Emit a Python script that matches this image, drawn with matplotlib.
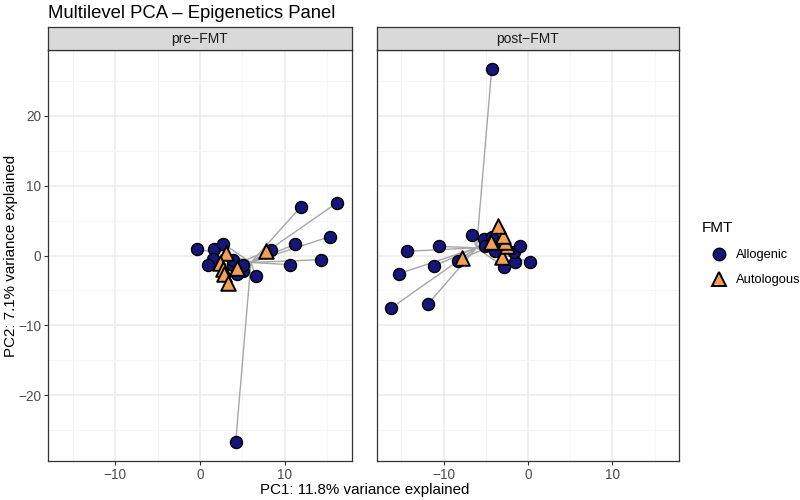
import numpy as np
import matplotlib
matplotlib.use('Agg')
import matplotlib.pyplot as plt
from matplotlib.lines import Line2D

plt.rcParams['font.family'] = ['Liberation Sans', 'DejaVu Sans']

# ---- data
panels = ['pre\u2212FMT', 'post\u2212FMT']

pre_allo_x = [-0.3, 1.6, 2.7, 1.5, 0.9, 3.9, 5.1, 4.3, 6.6, 8.4, 11.9, 16.1, 11.2, 15.3, 10.6, 14.2, 4.2, 3.9, 5.1]
pre_allo_y = [1.0, 1.0, 1.7, -0.5, -1.3, -1.4, -2.2, -2.7, -3.0, 0.8, 7.0, 7.5, 1.6, 2.7, -1.3, -0.6, -26.7, -0.6, -1.3]
pre_auto_x = [3.1, 2.3, 2.7, 2.8, 3.3, 4.4, 7.8]
pre_auto_y = [0.3, -1.1, -1.9, -2.7, -4.0, -1.8, 0.6]

post_allo_x = [0.2, -1.6, -2.8, -1.7, -0.9, -3.9, -5.2, -4.3, -6.6, -8.3, -11.9, -16.2, -11.2, -15.3, -10.6, -14.3, -4.3, -3.9, -5.1]
post_allo_y = [-0.9, -1.0, -1.7, 0.5, 1.3, 1.4, 2.3, 2.7, 3.0, -0.8, -7.0, -7.5, -1.5, -2.6, 1.3, 0.6, 26.7, 0.6, 1.3]
post_auto_x = [-3.1, -2.5, -2.7, -3.0, -3.5, -4.4, -7.8]
post_auto_y = [-0.2, 1.3, 1.9, 2.8, 4.2, 2.0, -0.4]

# group centroids (where the star lines meet)
ctr_allo = [(6.0, -1.0), (-6.1, 1.1)]
ctr_auto = [(3.8, -1.5), (-3.8, 1.6)]

allo = [(pre_allo_x, pre_allo_y), (post_allo_x, post_allo_y)]
auto = [(pre_auto_x, pre_auto_y), (post_auto_x, post_auto_y)]

col_allo = '#16167a'
col_auto = '#f2a055'
line_col = '#a6a6a6'
grid_major = '#ebebeb'
grid_minor = '#f5f5f5'
frame_col = '#333333'

fig = plt.figure(figsize=(8, 5), dpi=100)
W, H = 800., 500.

def px_axes(l, t, r, b):
    return fig.add_axes([l/W, 1-b/H, (r-l)/W, (b-t)/H])

panel_px = [(48, 50, 352, 461), (377, 50, 679, 461)]

for i in range(2):
    l, t, r, b = panel_px[i]
    ax = px_axes(l, t, r, b)
    ax.set_xlim(-17.9, 17.9)
    ax.set_ylim(-29.37, 29.37)
    ax.set_xticks([-10, 0, 10])
    ax.set_yticks([-20, -10, 0, 10, 20])
    ax.set_xticks([-15, -5, 5, 15], minor=True)
    ax.set_yticks([-25, -15, -5, 5, 15, 25], minor=True)
    ax.grid(which='major', color=grid_major, lw=1.1, zorder=0)
    ax.grid(which='minor', color=grid_minor, lw=0.6, zorder=0)
    ax.set_axisbelow(True)
    for s in ax.spines.values():
        s.set_color(frame_col)
        s.set_linewidth(0.9)
    ax.tick_params(which='major', length=3, width=0.8, color=frame_col,
                   labelsize=9.8, labelcolor='#4d4d4d', pad=2)
    ax.tick_params(which='minor', length=0)
    ax.set_xticklabels(['\u221210', '0', '10'])
    if i == 0:
        ax.set_yticklabels(['\u221220', '\u221210', '0', '10', '20'])
    else:
        ax.tick_params(axis='y', which='major', length=0, labelleft=False)

    # star lines to centroids
    cx, cy = ctr_allo[i]
    for x, y in zip(*allo[i]):
        ax.plot([cx, x], [cy, y], color=line_col, lw=1.0, zorder=1)
    cx, cy = ctr_auto[i]
    for x, y in zip(*auto[i]):
        ax.plot([cx, x], [cy, y], color=line_col, lw=1.0, zorder=1)

    ax.scatter(allo[i][0], allo[i][1], s=75, marker='o', facecolor=col_allo,
               edgecolor='black', linewidth=1.0, zorder=3)
    ax.scatter(auto[i][0], auto[i][1], s=110, marker='^', facecolor=col_auto,
               edgecolor='black', linewidth=1.4, zorder=4)

    # strip
    sax = px_axes(l, 27, r, 50)
    sax.set_facecolor('#d9d9d9')
    sax.set_xticks([])
    sax.set_yticks([])
    for s in sax.spines.values():
        s.set_color(frame_col)
        s.set_linewidth(0.9)
    sax.text(0.5, 0.5, panels[i], ha='center', va='center', fontsize=10,
             color='#1a1a1a', transform=sax.transAxes)

fig.text(48/W, 1-13/H, 'Multilevel PCA \u2013 Epigenetics Panel', fontsize=13.3,
         ha='left', va='center', color='black')
fig.text(365/W, 1-490/H, 'PC1: 11.8% variance explained', fontsize=10.9,
         ha='center', va='center')
fig.text(11/W, 1-256/H, 'PC2: 7.1% variance explained', fontsize=10.9,
         ha='center', va='center', rotation=90)

# legend
fig.text(702/W, 1-228/H, 'FMT', fontsize=11, ha='left', va='center')
h1 = Line2D([], [], marker='o', ls='', markersize=9, markerfacecolor=col_allo,
            markeredgecolor='black', markeredgewidth=1.0)
h2 = Line2D([], [], marker='^', ls='', markersize=10.5, markerfacecolor=col_auto,
            markeredgecolor='black', markeredgewidth=1.4)
fig.legend([h1, h2], ['Allogenic', 'Autologous'], loc='upper left',
           bbox_to_anchor=(704/W, 1-244/H), frameon=False, fontsize=9.3,
           handletextpad=0.6, labelspacing=1.0, borderaxespad=0, handlelength=1.5)

fig.savefig('out.png', dpi=100)
